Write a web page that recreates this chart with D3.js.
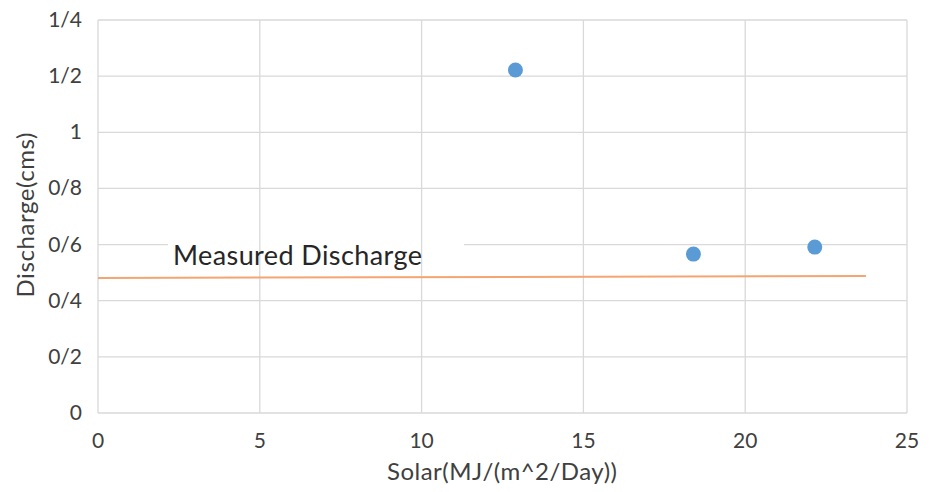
<!DOCTYPE html>
<html><head><meta charset="utf-8">
<script src="https://cdn.jsdelivr.net/npm/d3@7"></script>
<style>body{margin:0;background:#fff}svg{display:block}</style>
</head><body>
<script>
const xTicks = [0, 5, 10, 15, 20, 25];
const yTicks = [0, 0.2, 0.4, 0.6, 0.8, 1, 1.2, 1.4];
const yTickLabels = ["0", "0/2", "0/4", "0/6", "0/8", "1", "1/2", "1/4"];
const solarValues = [12.9, 18.4, 22.15];
const dischargeValues = [1.222, 0.566, 0.591];
const measuredX = [0, 23.73];
const measuredY = [0.481, 0.488];

const W = 935, H = 492;
const svg = d3.select("body").append("svg").attr("width", W).attr("height", H);
const x = d3.scaleLinear().domain([0, 25]).range([98, 907]);
const y = d3.scaleLinear().domain([0, 1.4]).range([413, 20]);
const font = "Lato, 'Open Sans', sans-serif";

svg.append("g").selectAll("line").data(yTicks).join("line")
  .attr("x1", x(0)).attr("x2", x(25)).attr("y1", d => y(d)).attr("y2", d => y(d))
  .attr("stroke", "#d9d9d9").attr("stroke-width", 1.3);

svg.append("rect").attr("x", 168).attr("y", 237).attr("width", 296).attr("height", 16).attr("fill", "#fff");

svg.append("g").selectAll("line").data(xTicks).join("line")
  .attr("x1", d => x(d)).attr("x2", d => x(d)).attr("y1", y(1.4)).attr("y2", y(0))
  .attr("stroke", "#d9d9d9").attr("stroke-width", 1.3);

svg.append("g").selectAll("text").data(xTicks).join("text")
  .attr("x", d => x(d)).attr("y", 448).attr("text-anchor", "middle")
  .attr("font-family", font).attr("font-size", 21).attr("fill", "#404040").text(d => d);

svg.append("g").selectAll("text").data(yTicks).join("text")
  .attr("x", 82).attr("y", d => y(d) + 7).attr("text-anchor", "end")
  .attr("font-family", font).attr("font-size", 21).attr("fill", "#404040")
  .text((d, i) => yTickLabels[i]);

svg.append("path")
  .datum(measuredX.map((v, i) => [v, measuredY[i]]))
  .attr("d", d3.line().x(d => x(d[0])).y(d => y(d[1])))
  .attr("stroke", "#f4a572").attr("stroke-width", 2).attr("fill", "none");

svg.append("g").selectAll("circle").data(solarValues).join("circle")
  .attr("cx", d => x(d)).attr("cy", (d, i) => y(dischargeValues[i])).attr("r", 7.5)
  .attr("fill", "#5b9bd5");

svg.append("text").attr("x", 173).attr("y", 265).attr("textLength", 249)
  .attr("font-family", font).attr("font-size", 27).attr("fill", "#262626").text("Measured Discharge");

svg.append("text").attr("x", 502).attr("y", 480).attr("text-anchor", "middle").attr("textLength", 230)
  .attr("font-family", font).attr("font-size", 24).attr("fill", "#404040").text("Solar(MJ/(m^2/Day))");
svg.append("text").attr("transform", "translate(34,215) rotate(-90)").attr("text-anchor", "middle").attr("textLength", 165)
  .attr("font-family", font).attr("font-size", 24).attr("fill", "#404040").text("Discharge(cms)");
</script>
</body></html>
